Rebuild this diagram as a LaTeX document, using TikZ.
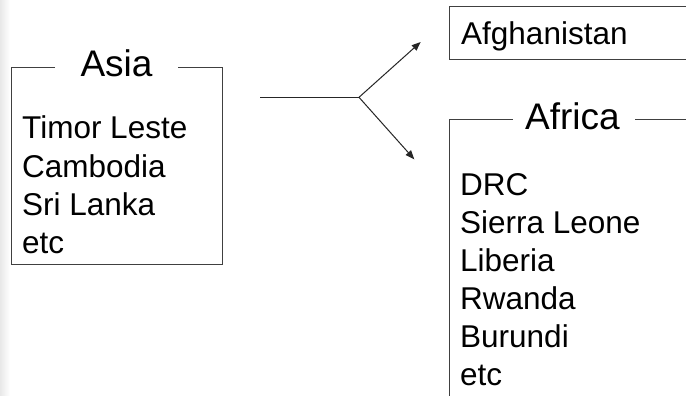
\documentclass[tikz,border=0pt]{standalone}
\usepackage{fontspec}
\setmainfont{Liberation Sans}
\usetikzlibrary{arrows.meta}
\begin{document}
\begin{tikzpicture}[x=1pt,y=-1pt,
  boxline/.style={draw=black!75,line width=1pt},
  conn/.style={draw=black!85,line width=1pt},
  tip/.style={-{Triangle[length=9pt,width=7pt]}},
  title/.style={font=\fontsize{37}{44}\selectfont,inner sep=0pt,anchor=base},
  item/.style={font=\fontsize{31.5}{38}\selectfont,inner sep=0pt,anchor=base west}]
  \clip (0,0) rectangle (686,396);
  \fill[white] (0,0) rectangle (686,396);
  % soft grey margin on the left
  \shade[left color=black!9,right color=white] (0,0) rectangle (10,396);

  % Asia group
  \draw[boxline] (55,67.7) -- (11,67.7) -- (11,264) -- (222,264) -- (222,67.7) -- (178,67.7);
  \node[title] (asia) at (116.5,76.7) {Asia};
  \node[item] (timor) at (22,139) {Timor Leste};
  \node[item] (cambodia) at (22,177) {Cambodia};
  \node[item] (srilanka) at (22,215) {Sri Lanka};
  \node[item] (asiaetc) at (22,253) {etc};

  % splitting connector
  \coordinate (from) at (260,97.3);
  \coordinate (split) at (359,97.3);
  \coordinate (toafg) at (420.7,42);
  \coordinate (toafr) at (414.3,159.3);
  \draw[conn] (from) -- (split);
  \draw[conn,tip] (split) -- (toafg);
  \draw[conn,tip] (split) -- (toafr);

  % Afghanistan box
  \draw[boxline] (700,6.5) -- (449.3,6.5) -- (449.3,59.5) -- (700,59.5);
  \node[item] (afg) at (461,45) {Afghanistan};

  % Africa group
  \draw[boxline] (512.7,119.5) -- (449.3,119.5) -- (449.3,410);
  \draw[boxline] (635,119.5) -- (700,119.5);
  \node[title,anchor=base west] (africa) at (525,129.5) {Africa};
  \node[item] (drc) at (460,195) {DRC};
  \node[item] (sierra) at (460,233) {Sierra Leone};
  \node[item] (liberia) at (460,271) {Liberia};
  \node[item] (rwanda) at (460,309) {Rwanda};
  \node[item] (burundi) at (460,347) {Burundi};
  \node[item] (africaetc) at (460,385) {etc};
\end{tikzpicture}
\end{document}
